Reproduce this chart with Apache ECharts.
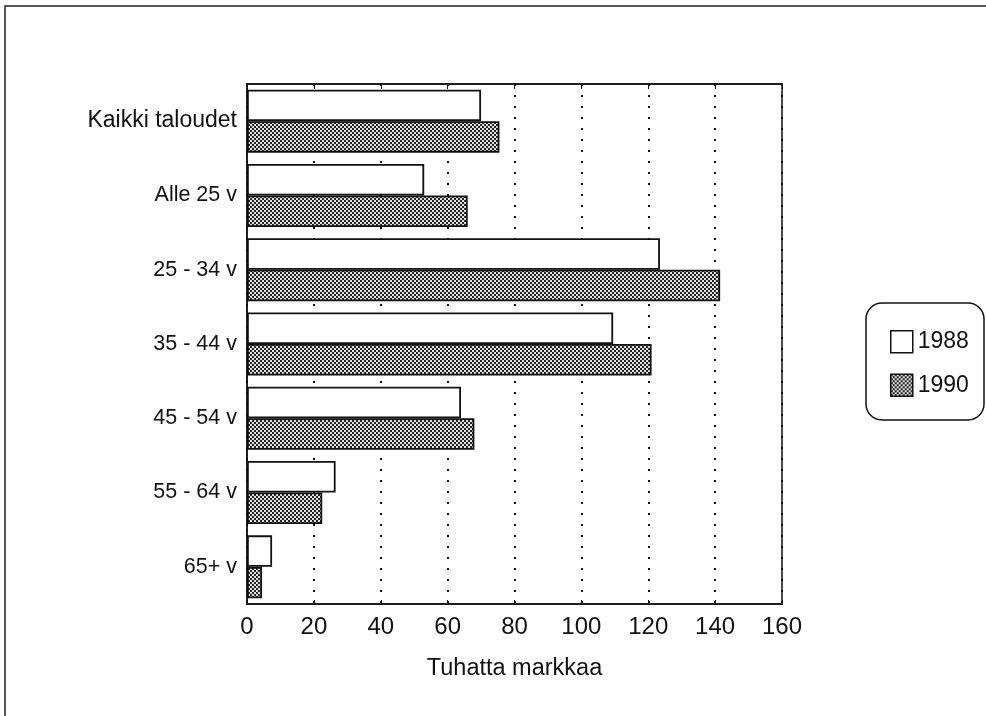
<!DOCTYPE html>
<html>
<head>
<meta charset="utf-8">
<script src="https://cdn.jsdelivr.net/npm/echarts@6/dist/echarts.min.js"></script>
<style>
html,body{margin:0;padding:0;background:#fff;}
#chart{width:986px;height:716px;}
</style>
</head>
<body>
<div id="chart"></div>
<script>
const categories = ['Kaikki taloudet', 'Alle 25 v', '25 - 34 v', '35 - 44 v', '45 - 54 v', '55 - 64 v', '65+ v'];
const seriesNames = ['1988', '1990'];
const values1988 = [70, 53, 123.5, 109.5, 64, 26.5, 7.5];
const values1990 = [75.5, 66, 141.5, 121, 68, 22.5, 4.5];
const xTicks = { min: 0, max: 160, interval: 20 };
const axisTitle = 'Tuhatta markkaa';

const FONT = '"Liberation Sans", Arial, Helvetica, sans-serif';

// dithered checker pattern for the 1990 bars
const pc = document.createElement('canvas');
pc.width = 4; pc.height = 4;
const pctx = pc.getContext('2d');
pctx.fillStyle = '#e0e0e0';
pctx.fillRect(0, 0, 4, 4);
pctx.fillStyle = '#262626';
pctx.fillRect(0, 0, 2, 2);
pctx.fillRect(2, 2, 2, 2);
const pattern = { image: pc, repeat: 'repeat' };

const chart = echarts.init(document.getElementById('chart'), null, { renderer: 'canvas' });

const catData = categories.map((c, i) => i === 0
  ? { value: c, textStyle: { fontSize: 23 } }
  : { value: c });

const option = {
  backgroundColor: '#fff',
  animation: false,
  textStyle: { fontFamily: FONT, color: '#111' },
  grid: {
    left: 247, top: 84, right: 204, bottom: 112,
    show: true, borderColor: '#111', borderWidth: 1.5, backgroundColor: 'transparent'
  },
  legend: {
    orient: 'vertical',
    left: 885, top: 325,
    itemWidth: 22, itemHeight: 22, itemGap: 20,
    icon: 'rect',
    data: seriesNames,
    textStyle: { fontFamily: FONT, fontSize: 23, color: '#111', padding: [0, 0, 0, 0] },
    itemStyle: { borderColor: '#111', borderWidth: 1.5 }
  },
  graphic: [
    {
      type: 'rect', z: 100,
      shape: { x: 5, y: 6, width: 1100, height: 900 },
      style: { fill: 'none', stroke: '#222', lineWidth: 1.5 }
    },
    {
      type: 'rect', z: 100,
      shape: { x: 866, y: 303, width: 118, height: 117, r: 16 },
      style: { fill: 'none', stroke: '#111', lineWidth: 1.5 }
    }
  ],
  xAxis: [
    {
      type: 'value',
      position: 'bottom',
      min: xTicks.min, max: xTicks.max, interval: xTicks.interval,
      name: axisTitle,
      nameLocation: 'middle',
      nameGap: 53,
      nameTextStyle: { fontFamily: FONT, fontSize: 23.5, color: '#111' },
      axisLine: { show: true, lineStyle: { color: '#111', width: 1.5 } },
      axisTick: { show: true, inside: true, length: 4, lineStyle: { color: '#111' } },
      axisLabel: { fontFamily: FONT, fontSize: 24, color: '#111', margin: 11 },
      splitLine: { show: true, lineStyle: { color: '#111', width: 2, type: [2, 9] } }
    },
    {
      type: 'value',
      position: 'top',
      min: xTicks.min, max: xTicks.max, interval: xTicks.interval,
      axisLine: { show: true, lineStyle: { color: '#111', width: 1.5 } },
      axisTick: { show: true, inside: true, length: 5, lineStyle: { color: '#111' } },
      axisLabel: { show: false },
      splitLine: { show: false }
    }
  ],
  yAxis: {
    type: 'category',
    inverse: true,
    data: catData,
    axisLine: { show: true, lineStyle: { color: '#111', width: 1.5 } },
    axisTick: { show: false },
    axisLabel: { fontFamily: FONT, fontSize: 21.5, color: '#111', margin: 10 },
    splitLine: { show: false }
  },
  series: [
    {
      name: seriesNames[0],
      type: 'bar',
      xAxisIndex: 0,
      data: values1988,
      barWidth: 31.5,
      barGap: '0%',
      itemStyle: { color: '#fff', borderColor: '#111', borderWidth: 1.8 }
    },
    {
      name: seriesNames[1],
      type: 'bar',
      xAxisIndex: 0,
      data: values1990,
      barWidth: 31.5,
      barGap: '0%',
      itemStyle: { color: pattern, borderColor: '#111', borderWidth: 1.8 }
    }
  ]
};

chart.setOption(option);
</script>
</body>
</html>
